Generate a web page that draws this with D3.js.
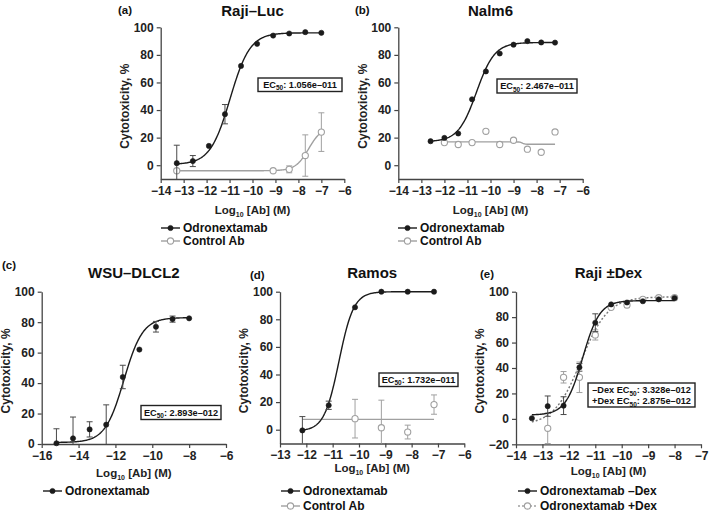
<!DOCTYPE html>
<html><head><meta charset="utf-8">
<script src="https://cdn.jsdelivr.net/npm/d3@7"></script>
<style>body{margin:0;background:#fff}svg{display:block}</style>
</head><body>
<svg id="chart" width="709" height="514"></svg>
<script>
// ---------- DATA ----------
// Fit parameters are [bottom, top, logEC50, hill]
// (a) Raji–Luc
const aOdroX = [-13.3,-12.6,-11.9,-11.2,-10.5,-9.8,-9.1,-8.4,-7.7,-7.0];
const aOdroY = [1.5,3,14,37,72,88,94,95.5,96.5,96];
const aOdroE = [13,4,0,7,0,0,0,0,0,0];
const aOdroFit = [0.5,96,-10.976,1.0];
const aCtrlX = [-13.3,-9.1,-8.4,-7.7,-7.0];
const aCtrlY = [-4,-4,-3,7,24];
const aCtrlE = [0,0,2.5,15,14];
const aCtrlFit = [-4,28,-7.55,1.5];
const aCtrlRange = [-13.3,-7.0];
// (b) Nalm6
const bOdroX = [-12.6,-12.0,-11.4,-10.8,-10.2,-9.6,-9.0,-8.4,-7.8,-7.2];
const bOdroY = [17.4,19.8,23,47.8,68,81,87.4,90,89,88.9];
const bOdroFit = [17,89,-10.608,1.1];
const bCtrlX = [-12.0,-11.4,-10.8,-10.2,-9.6,-9.0,-8.4,-7.8,-7.2];
const bCtrlY = [16.4,15,16.4,24.6,15,18.1,11.6,9.4,24.1];
const bCtrlFit = [16.9,15.2,-8.62,8];
// (c) WSU–DLCL2
const cOdroX = [-15.2,-14.3,-13.4,-12.5,-11.6,-10.7,-9.8,-8.9,-8.0];
const cOdroY = [0.5,3.7,9.6,12.7,44,62,77,82,82.5];
const cOdroE = [9.5,14,5,13,7.7,0,3.5,2,0];
const cOdroFit = [1,83,-11.539,0.85];
// (d) Ramos
const dOdroX = [-12.15,-11.15,-10.15,-9.15,-8.15,-7.15];
const dOdroY = [-0.5,17.7,88.7,100,100,100];
const dOdroE = [10,3,0,0,0,0];
const dOdroFit = [-1,100,-10.761,1.55];
const dCtrlX = [-10.15,-9.15,-8.15,-7.15];
const dCtrlY = [8,1.4,-1.7,18.2];
const dCtrlE = [14,20,5,7];
const dCtrlFit = [7.5,7.5,-9.65,1];
const dCtrlRange = [-12.15,-7.15];
// (e) Raji ±Dex
const eMinusX = [-13.4,-12.8,-12.2,-11.6,-11.0,-10.4,-9.8,-9.2,-8.6,-8.0];
const eMinusY = [0.5,10,10.4,40.5,75.6,90,91.5,92.5,94,95];
const eMinusE = [0,8,7,3,7,0,0,0,0,0];
const eMinusFit = [3,93,-11.478,1.35];
const ePlusX = [-12.8,-12.2,-11.6,-11.0,-10.4,-9.8,-9.2,-8.6,-8.0];
const ePlusY = [-7.4,32.7,32.7,66,87.7,89.5,94,95.3,95.3];
const ePlusE = [12,4.5,12,4,0,2,0,0,0];
const ePlusFit = [-5,96,-11.541,0.85];
const ePlusRange = [-13.4,-8.0];

const titles = ["Raji–Luc","Nalm6","WSU–DLCL2","Ramos","Raji ±Dex"];
const panelTags = ["(a)","(b)","(c)","(d)","(e)"];
const ec50Text = ["1.056e–011","2.467e–011","2.893e–012","1.732e–011"];
const eEc50Text = [["–Dex ","3.328e–012"],["+Dex ","2.875e–012"]];
const legendNames = ["Odronextamab","Control Ab","Odronextamab –Dex","Odronextamab +Dex"];

// ---------- DRAW ----------
const FONT = "'Liberation Sans', Arial, Helvetica, sans-serif";
const svg = d3.select("#chart").attr("font-family", FONT);
const BLACK = "#1b1b1b", GRAY = "#a0a0a0", AXIS = "#444", EBLACK = "#4a4a4a";
const fmt = d3.format("d");

function fitFn(p){ return x => p[0] + (p[1]-p[0])/(1+Math.pow(10,(p[2]-x)*p[3])); }

function makePanel(c){
  const g = svg.append("g");
  const x = d3.scaleLinear().domain(c.xDomain).range([c.left,c.right]);
  const y = d3.scaleLinear().domain(c.yDomain).range([c.bottom,c.top]);
  const ax = g.append("g").attr("transform",`translate(0,${c.bottom})`)
    .call(d3.axisBottom(x).tickValues(d3.range(c.xDomain[0],c.xDomain[1]+0.01,c.xStep)).tickFormat(fmt).tickSize(4).tickSizeOuter(0).tickPadding(3));
  const ay = g.append("g").attr("transform",`translate(${c.left},0)`)
    .call(d3.axisLeft(y).tickValues(d3.range(c.yTick0,100.01,20)).tickFormat(fmt).tickSize(4).tickSizeOuter(0).tickPadding(3));
  [ax,ay].forEach(a=>{
    a.select(".domain").attr("stroke",AXIS).attr("stroke-width",1.3);
    a.selectAll(".tick line").attr("stroke",AXIS).attr("stroke-width",1.2);
    a.selectAll("text").attr("font-family",FONT).attr("font-size",12).attr("font-weight","bold").attr("fill","#222");
  });
  g.append("text").attr("x",(c.left+c.right)/2).attr("y",c.titleY).attr("text-anchor","middle")
    .attr("font-size",15).attr("font-weight","bold").attr("fill","#111").text(c.title);
  g.append("text").attr("x",c.tagX).attr("y",c.tagY).attr("font-size",11.5).attr("font-weight","bold").attr("fill","#111").text(c.tag);
  const ym = (c.top+c.bottom)/2+3;
  g.append("text").attr("transform",`translate(${c.left-36},${ym}) rotate(-90)`).attr("text-anchor","middle")
    .attr("dy","0.35em").attr("font-size",12).attr("font-weight","bold").attr("fill","#222").text("Cytotoxicity, %");
  const xl = g.append("text").attr("x",(c.left+c.right)/2).attr("y",c.xLabelY).attr("text-anchor","middle")
    .attr("font-size",11.5).attr("font-weight","bold").attr("fill","#222");
  xl.append("tspan").text("Log");
  xl.append("tspan").attr("font-size",7).attr("dy",3).text("10");
  xl.append("tspan").attr("dy",-3).text(" [Ab] (M)");
  return {g,x,y};
}

function curve(P, xs, params, color, dash){
  const f = fitFn(params);
  const pts = d3.range(0,201).map(i=>{const xv = xs[0]+(xs[1]-xs[0])*i/200; return [xv,f(xv)];});
  P.g.append("path").datum(pts).attr("fill","none").attr("stroke",color).attr("stroke-width",1.4)
    .attr("stroke-dasharray",dash||null)
    .attr("d",d3.line().x(d=>P.x(d[0])).y(d=>P.y(d[1])));
}
function errbars(P, xs, ys, es, color){
  const [y0,y1] = P.y.domain();
  xs.forEach((xv,i)=>{
    const e = es[i]; if(!e) return;
    const lo = Math.max(ys[i]-e,y0), hi = Math.min(ys[i]+e,y1);
    const px = P.x(xv);
    P.g.append("line").attr("x1",px).attr("x2",px).attr("y1",P.y(lo)).attr("y2",P.y(hi)).attr("stroke",color).attr("stroke-width",1);
    [[lo,ys[i]-e],[hi,ys[i]+e]].forEach(([v,raw])=>{
      if(Math.abs(v-raw)<1e-9) P.g.append("line").attr("x1",px-3).attr("x2",px+3).attr("y1",P.y(v)).attr("y2",P.y(v)).attr("stroke",color).attr("stroke-width",1);
    });
  });
}
function points(P, xs, ys, filled){
  P.g.selectAll(null).data(xs.map((xv,i)=>[xv,ys[i]])).enter().append("circle")
    .attr("cx",d=>P.x(d[0])).attr("cy",d=>P.y(d[1])).attr("r",filled?2.6:3.1)
    .attr("fill",filled?BLACK:"#fff").attr("stroke",filled?BLACK:GRAY).attr("stroke-width",filled?0.6:1.1);
}
function legend(P, x0, yy, name, filled, dash){
  const color = filled?BLACK:GRAY;
  P.g.append("line").attr("x1",x0).attr("x2",x0+19).attr("y1",yy).attr("y2",yy).attr("stroke",color).attr("stroke-width",1.4).attr("stroke-dasharray",dash||null);
  P.g.append("circle").attr("cx",x0+9.5).attr("cy",yy).attr("r",filled?2.6:3.1).attr("fill",filled?BLACK:"#fff").attr("stroke",color).attr("stroke-width",filled?0.6:1.1);
  P.g.append("text").attr("x",x0+22).attr("y",yy).attr("dy","0.36em").attr("font-size",12).attr("font-weight","bold").attr("fill","#111").text(name);
}
function ecBox(P, bx, by, w, h, rows){
  P.g.append("rect").attr("x",bx).attr("y",by).attr("width",w).attr("height",h).attr("fill","#fff").attr("stroke","#222").attr("stroke-width",1.4);
  rows.forEach((r,i)=>{
    const t = P.g.append("text").attr("x",bx+w/2).attr("y",by+ (rows.length===1? h/2+3.2 : 10.3+i*10.8))
      .attr("text-anchor","middle").attr("font-size",9.2).attr("font-weight","bold").attr("fill","#111");
    t.append("tspan").text(r[0]+"EC");
    t.append("tspan").attr("font-size",6.5).attr("dy",2.5).text("50");
    t.append("tspan").attr("dy",-2.5).text(": "+r[1]);
  });
}
const ext = a => [a[0],a[a.length-1]];

// (a)
const A = makePanel({xDomain:[-14,-6],xStep:1,yDomain:[-10,100],yTick0:0,left:160.7,right:344.3,top:27.3,bottom:179,
  title:titles[0],titleY:16,tag:panelTags[0],tagX:118,tagY:14,xLabelY:214});
curve(A, aCtrlRange, aCtrlFit, GRAY);
errbars(A, aCtrlX, aCtrlY, aCtrlE, GRAY);
points(A, aCtrlX, aCtrlY, false);
curve(A, ext(aOdroX), aOdroFit, BLACK);
errbars(A, aOdroX, aOdroY, aOdroE, EBLACK);
points(A, aOdroX, aOdroY, true);
ecBox(A, 258, 78, 84, 13.5, [["",ec50Text[0]]]);
legend(A, 161, 228, legendNames[0], true);
legend(A, 161, 241, legendNames[1], false);

// (b)
const B = makePanel({xDomain:[-14,-6],xStep:1,yDomain:[-10,100],yTick0:0,left:398.3,right:582.7,top:27.3,bottom:179,
  title:titles[1],titleY:16,tag:panelTags[1],tagX:355,tagY:14,xLabelY:214});
curve(B, ext(bCtrlX), bCtrlFit, GRAY);
points(B, bCtrlX, bCtrlY, false);
curve(B, ext(bOdroX), bOdroFit, BLACK);
points(B, bOdroX, bOdroY, true);
ecBox(B, 497, 79, 80, 14, [["",ec50Text[1]]]);
legend(B, 398, 228, legendNames[0], true);
legend(B, 398, 241, legendNames[1], false);

// (c)
const C = makePanel({xDomain:[-16,-6],xStep:2,yDomain:[0,100],yTick0:0,left:41.7,right:226,top:291.7,bottom:444,
  title:titles[2],titleY:277.5,tag:panelTags[2],tagX:2,tagY:269,xLabelY:477});
curve(C, ext(cOdroX), cOdroFit, BLACK);
errbars(C, cOdroX, cOdroY, cOdroE, EBLACK);
points(C, cOdroX, cOdroY, true);
ecBox(C, 141, 405.5, 80, 14, [["",ec50Text[2]]]);
legend(C, 43, 491, legendNames[0], true);

// (d)
const D = makePanel({xDomain:[-13,-6],xStep:1,yDomain:[-10,100],yTick0:0,left:280,right:464.3,top:291.7,bottom:443.5,
  title:titles[3],titleY:278,tag:panelTags[3],tagX:250,tagY:279,xLabelY:472});
curve(D, dCtrlRange, dCtrlFit, GRAY);
errbars(D, dCtrlX, dCtrlY, dCtrlE, GRAY);
points(D, dCtrlX, dCtrlY, false);
curve(D, ext(dOdroX), dOdroFit, BLACK);
errbars(D, dOdroX, dOdroY, dOdroE, EBLACK);
points(D, dOdroX, dOdroY, true);
ecBox(D, 379, 373, 79, 13.5, [["",ec50Text[3]]]);
legend(D, 281, 491, legendNames[0], true);
legend(D, 281, 506, legendNames[1], false);

// (e)
const E = makePanel({xDomain:[-14,-7],xStep:1,yDomain:[-20,100],yTick0:-20,left:516,right:701,top:291.7,bottom:444.3,
  title:titles[4],titleY:277.5,tag:panelTags[4],tagX:480,tagY:277.5,xLabelY:475});
curve(E, ePlusRange, ePlusFit, "#777", "2,2");
errbars(E, ePlusX, ePlusY, ePlusE, GRAY);
points(E, ePlusX, ePlusY, false);
curve(E, ext(eMinusX), eMinusFit, BLACK);
errbars(E, eMinusX, eMinusY, eMinusE, EBLACK);
points(E, eMinusX, eMinusY, true);
ecBox(E, 588, 383, 107, 24, eEc50Text);
legend(E, 518, 491, legendNames[2], true);
legend(E, 518, 506, legendNames[3], false, "2,2");
</script>
</body></html>
